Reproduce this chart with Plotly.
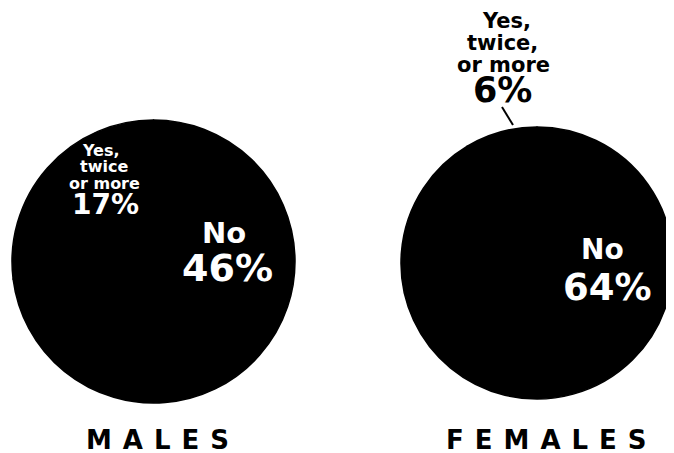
import plotly.graph_objects as go

# The page body adds an 8px margin, so the figure is drawn 8px in and
# everything is laid out in screenshot pixels minus that offset.
OFF = 8
W, H = 674 - OFF, 453 - OFF

# ---- data ----
groups = ["MALES", "FEMALES"]
categories = ["No", "Yes, twice or more"]
males_values = [46, 17]
females_values = [64, 6]
males_yes_lines = ["Yes,", "twice", "or more"]
females_yes_lines = ["Yes,", "twice,", "or more"]

FONT = "DejaVu Sans"


def px(x):
    return (x - OFF) / W


def py(y):
    return 1 - (y - OFF) / H


fig = go.Figure()

fig.add_trace(go.Pie(
    labels=categories, values=males_values, sort=False,
    domain=dict(x=[px(12), px(295)], y=[py(403), py(120)]),
    marker=dict(colors=["black", "black"], line=dict(color="black", width=1.5)),
    textinfo="none", hoverinfo="label+value", showlegend=False,
))
fig.add_trace(go.Pie(
    labels=categories, values=females_values, sort=False,
    domain=dict(x=[px(401), px(673)], y=[py(403), py(123)]),
    marker=dict(colors=["black", "black"], line=dict(color="black", width=1.5)),
    textinfo="none", hoverinfo="label+value", showlegend=False,
))

ann = []


def txt(x, y, s, size, color):
    ann.append(dict(x=px(x), y=py(y), xref="paper", yref="paper", text=s,
                    showarrow=False, xanchor="center", yanchor="middle",
                    font=dict(family=FONT, size=size, color=color, weight="bold")))


# Males labels
males_line_x = [101, 104, 104.5]
for i, line in enumerate(males_yes_lines):
    txt(males_line_x[i], 150 + i * 16.5, line, 16, "white")
txt(105, 204, f"{males_values[1]}%", 28, "white")
txt(224, 233, categories[0], 29, "white")
txt(227, 268, f"{males_values[0]}%", 38, "white")

# Females labels
females_line_x = [506, 502, 503]
for i, line in enumerate(females_yes_lines):
    txt(females_line_x[i], 21 + i * 22, line, 21, "black")
txt(502, 90, f"{females_values[1]}%", 35, "black")
txt(602, 249, categories[0], 28, "white")
txt(607, 287, f"{females_values[0]}%", 37, "white")

# Group titles (wide, spaced capitals)
SP = 11
txt(157.5 + SP / 2, 440, f"<span style='letter-spacing:{SP}px'>{groups[0]}</span>", 26, "black")
txt(546 + SP / 2, 440, f"<span style='letter-spacing:{SP}px'>{groups[1]}</span>", 26, "black")

fig.update_layout(
    width=W, height=H,
    margin=dict(l=0, r=0, t=0, b=0),
    paper_bgcolor="white", plot_bgcolor="white",
    annotations=ann,
    shapes=[dict(type="line", xref="paper", yref="paper",
                 x0=px(502), y0=py(107), x1=px(513), y1=py(125),
                 line=dict(color="black", width=2))],
)

fig.write_html("out.html")
